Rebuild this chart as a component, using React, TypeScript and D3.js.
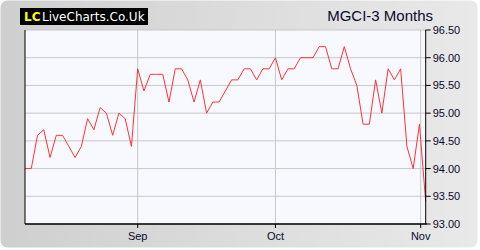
import React from "react";
import * as d3 from "d3";

const values: number[] = [
  94.0, 94.0, 94.6, 94.7, 94.2, 94.6, 94.6, 94.4, 94.2, 94.4,
  94.9, 94.7, 95.1, 95.0, 94.6, 95.0, 94.9, 94.4, 95.8, 95.4,
  95.7, 95.7, 95.7, 95.2, 95.8, 95.8, 95.6, 95.2, 95.6, 95.0,
  95.2, 95.2, 95.4, 95.6, 95.6, 95.8, 95.8, 95.6, 95.8, 95.8,
  96.0, 95.6, 95.8, 95.8, 96.0, 96.0, 96.0, 96.2, 96.2, 95.8,
  95.8, 96.2, 95.8, 95.5, 94.8, 94.8, 95.6, 95.0, 95.8, 95.6,
  95.8, 94.4, 94.0, 94.8, 93.4,
];

const monthTickIndex: number[] = [18, 40, 63.2];
const monthTickLabels: string[] = ["Sep", "Oct", "Nov"];
const yTicks: number[] = [93.0, 93.5, 94.0, 94.5, 95.0, 95.5, 96.0, 96.5];
const title = "MGCI-3 Months";

export default function App() {
  const W = 480, H = 250;
  const left = 25, right = 425.7, top = 30, bottom = 224;
  const x = d3.scaleLinear().domain([0, values.length - 1]).range([left, right]);
  const y = d3.scaleLinear().domain([93, 96.5]).range([bottom, top]);
  const line = d3.line<number>().x((_, i) => x(i)).y((d) => y(d));
  const font = "'Liberation Sans', Arial, sans-serif";
  return (
    <svg width={W} height={H} style={{ position: "absolute", left: 0, top: 0 }}>
      <defs>
        <linearGradient id="bg" x1="0" y1="0" x2="1" y2="0">
          <stop offset="0" stopColor="#cfcfcf" />
          <stop offset="1" stopColor="#e9e9e9" />
        </linearGradient>
      </defs>
      <rect x={0} y={0} width={W} height={H} fill="#ffffff" />
      <rect x={0.5} y={0.5} width={477} height={247} rx={7} fill="url(#bg)" />
      <rect x={left} y={top} width={right - left} height={bottom - top} fill="#f8f9ff" />
      {yTicks.map((t) => (
        <line key={"g" + t} x1={left} x2={right} y1={y(t)} y2={y(t)} stroke="#c8c8c8" strokeWidth={1} />
      ))}
      {monthTickIndex.map((t, i) => (
        <line key={"v" + i} x1={x(t)} x2={x(t)} y1={top} y2={bottom} stroke="#c8c8c8" strokeWidth={1} />
      ))}
      <path d={line(values) || ""} fill="none" stroke="#ff3333" strokeWidth={1} />
      <line x1={left} x2={left} y1={top} y2={bottom} stroke="#000" strokeWidth={1} />
      <line x1={left} x2={right + 1} y1={bottom} y2={bottom} stroke="#000" strokeWidth={1.5} />
      <line x1={right} x2={right} y1={top} y2={bottom} stroke="#000" strokeWidth={1} />
      {yTicks.map((t) => (
        <g key={"t" + t}>
          <line x1={right} x2={right + 5} y1={y(t)} y2={y(t)} stroke="#000" />
          <text x={right + 7} y={y(t) + 4} fontFamily={font} fontSize={11} fill="#0a0a2a">
            {t.toFixed(2)}
          </text>
        </g>
      ))}
      {monthTickIndex.map((t, i) => (
        <g key={"m" + i}>
          <line x1={x(t)} x2={x(t)} y1={bottom} y2={bottom + 4} stroke="#000" />
          <text x={x(t)} y={bottom + 16} textAnchor="middle" fontFamily={font} fontSize={11} fill="#0a0a2a">
            {monthTickLabels[i]}
          </text>
        </g>
      ))}
      <text x={433} y={21} textAnchor="end" fontFamily={font} fontSize={15} fill="#0a0a2a">
        {title}
      </text>
      <rect x={20} y={8} width={128} height={17} fill="#000" />
      <text x={24} y={21} fontFamily="'DejaVu Sans', sans-serif" fontWeight="bold" fontSize={12} fill="#ffff00">
        LC
      </text>
      <text x={42} y={21} fontFamily="'DejaVu Sans', sans-serif" fontSize={12} fill="#ffffff">
        LiveCharts.Co.Uk
      </text>
    </svg>
  );
}
